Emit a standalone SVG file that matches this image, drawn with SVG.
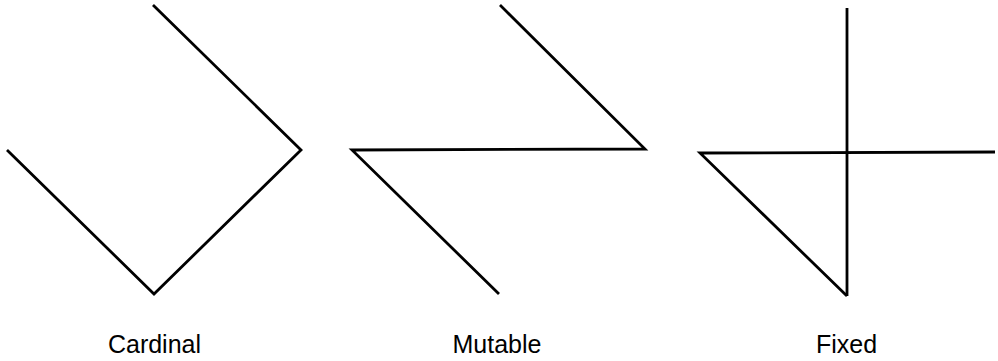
<svg xmlns="http://www.w3.org/2000/svg" width="998" height="361" viewBox="0 0 998 361">
<style>
.ln{fill:none;stroke:#000;stroke-width:2.8;stroke-linejoin:miter;stroke-linecap:butt}
.lb{font-family:"Liberation Sans",Arial,sans-serif;font-size:25px;fill:#000;text-anchor:middle}
</style>
<rect width="998" height="361" fill="#fff"/>
<g id="cardinal">
<polyline class="ln" points="7,150 154,294 301,150 153,5"/>
<text class="lb" x="154.5" y="353">Cardinal</text>
</g>
<g id="mutable">
<polyline class="ln" points="500,5 645,149 352,150 499,294"/>
<text class="lb" x="497" y="353">Mutable</text>
</g>
<g id="fixed">
<line class="ln" x1="847" y1="8" x2="847" y2="296"/>
<polyline class="ln" points="995,152 700,153 847,296"/>
<text class="lb" x="846.5" y="353">Fixed</text>
</g>
</svg>
